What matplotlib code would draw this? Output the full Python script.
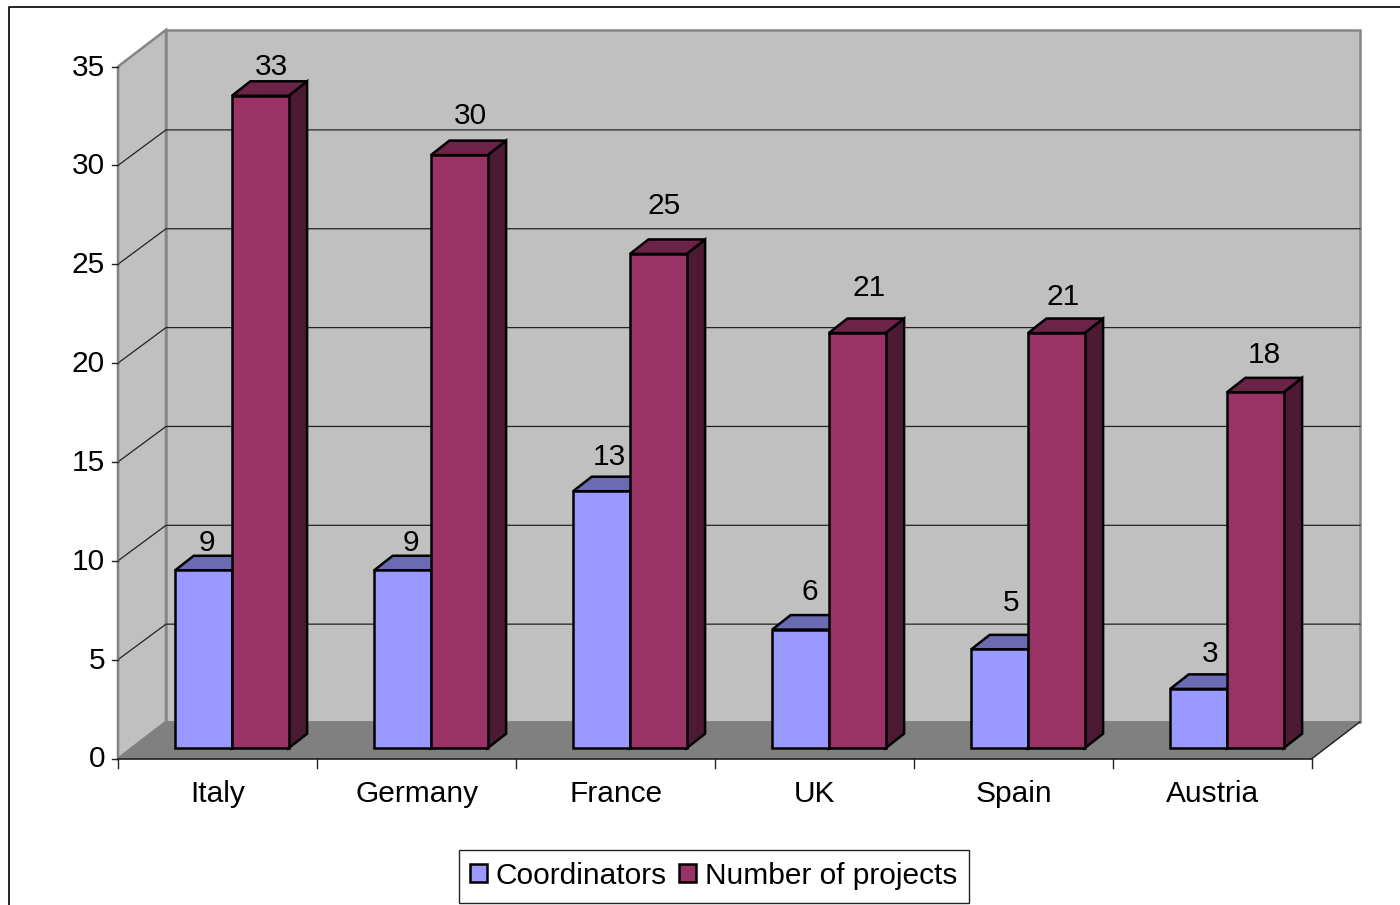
import matplotlib
matplotlib.use("Agg")
import matplotlib.pyplot as plt
from matplotlib.patches import Polygon, Patch, Rectangle

countries = ["Italy", "Germany", "France", "UK", "Spain", "Austria"]
coordinators = [9, 9, 13, 6, 5, 3]
projects = [33, 30, 25, 21, 21, 18]
yticks = [0, 5, 10, 15, 20, 25, 30, 35]

plt.rcParams['font.family'] = ['Liberation Sans', 'DejaVu Sans']

W, H = 1400, 905
# one category is 199 px wide, one y unit is 19.77 px, zero is at (118, 758.5)
sx, sy = 199.0, 19.77
x0, y0 = 118.0, 758.5

fig = plt.figure(figsize=(W / 100, H / 100), dpi=100, facecolor='white')
ax = fig.add_axes([0, 0, 1, 1])
ax.set_xlim(-x0 / sx, (W - x0) / sx)
ax.set_ylim((y0 - H) / sy, y0 / sy)
ax.axis('off')

n = len(countries)
ymax = yticks[-1]
wall_dx = 48 / sx
wall_dy = 36.7 / sy
grid_dy = 35.5 / sy
depth_dx = 18.5 / sx
depth_dy = 14.5 / sy
bar_w = 56.7 / sx
bar_x = 57.2 / sx
bar_y = 10.3 / sy


def poly(pts, fc, ec='#000000', lw=1.0, z=1):
    ax.add_patch(Polygon(pts, closed=True, fc=fc, ec=ec, lw=lw, zorder=z, joinstyle='miter'))


# outer chart frame
ax.plot([-(x0 - 9) / sx, -(x0 - 9) / sx, (W - x0) / sx], [(y0 - H) / sy, (y0 - 7.5) / sy, (y0 - 7.5) / sy],
        color='black', lw=1.2, zorder=0)

# walls and floor
poly([(0, 0), (wall_dx, wall_dy), (wall_dx, ymax + wall_dy), (0, ymax)], '#c0c0c0', '#868686', 1.8, 1)
poly([(wall_dx, wall_dy), (n + wall_dx, wall_dy), (n + wall_dx, ymax + wall_dy), (wall_dx, ymax + wall_dy)],
     '#c0c0c0', '#868686', 1.8, 1)
poly([(0, 0), (n, 0), (n + wall_dx, wall_dy), (wall_dx, wall_dy)], '#808080', '#808080', 0.8, 2)

# gridlines on the walls
for t in yticks[1:-1]:
    ax.plot([0, wall_dx, n + wall_dx], [t, t + grid_dy, t + grid_dy], color='#222222', lw=0.9, zorder=2)

# axes lines and ticks
ax.plot([0, 0], [0, ymax], color='#808080', lw=1.2, zorder=3)
ax.plot([0, n], [0, 0], color='#222222', lw=1.2, zorder=3)
ax.plot([n, n + wall_dx], [0, wall_dy], color='#222222', lw=1.0, zorder=3)
for t in yticks:
    ax.plot([-6 / sx, 0], [t, t], color='#222222', lw=1.0, zorder=3)
    ax.text(-13 / sx, t - 0.05, str(t), ha='right', va='center', fontsize=21.5, zorder=5)
for i in range(n + 1):
    ax.plot([i, i], [0, -9 / sy], color='#222222', lw=1.0, zorder=3)


def bar3d(left, val, front, top, side, z):
    r = left + bar_w
    b = bar_y
    v = val + bar_y
    poly([(r, b), (r + depth_dx, b + depth_dy), (r + depth_dx, v + depth_dy), (r, v)], side, 'black', 1.8, z)
    poly([(left, v), (r, v), (r + depth_dx, v + depth_dy), (left + depth_dx, v + depth_dy)], top, 'black', 1.8, z)
    poly([(left, b), (r, b), (r, v), (left, v)], front, 'black', 1.8, z)


# small nudges of the data labels, as they sit in the original
coord_label_dx = [-25, -20, -21, -19, -17, -17]
coord_label_dy = [38, 38, 44, 48, 57, 45]
proj_label_dx = [-17, -17, -22, -16, -21, -19]
proj_label_dy = [39, 49, 58, 55, 46, 48]

for i in range(n):
    left = i + bar_x
    bar3d(left, coordinators[i], '#9999ff', '#6b6bb3', '#4d4d80', 6)
    bar3d(left + bar_w, projects[i], '#993366', '#6b2447', '#4d1a33', 7)
    ax.text(left + bar_w + coord_label_dx[i] / sx, coordinators[i] + coord_label_dy[i] / sy, str(coordinators[i]),
            ha='center', va='center', fontsize=21.5, zorder=9)
    ax.text(left + 2 * bar_w + proj_label_dx[i] / sx, projects[i] + proj_label_dy[i] / sy, str(projects[i]),
            ha='center', va='center', fontsize=21.5, zorder=9)
    ax.text(i + 0.5 + 0.5 / sx, -35 / sy, countries[i], ha='center', va='center', fontsize=21.5, zorder=9)

# legend box is drawn apart, its height does not follow the small handles
ax.add_patch(Rectangle((459 / W, 1 - 903 / H), 510 / W, 53 / H, transform=ax.transAxes,
                       fc='white', ec='#222222', lw=1.0, zorder=10))
handles = [Patch(fc='#9999ff', ec='black', lw=1.8, label='Coordinators'),
           Patch(fc='#993366', ec='black', lw=1.8, label='Number of projects')]
leg = ax.legend(handles=handles, ncol=2, loc='center', bbox_to_anchor=(713.5 / W, 1 - 876 / H), fontsize=21.5,
                frameon=False, handlelength=0.55, handleheight=0.55,
                handletextpad=0.3, columnspacing=0.42, borderpad=0.3, borderaxespad=0)
leg.set_zorder(11)

fig.savefig('out.png', dpi=100)
